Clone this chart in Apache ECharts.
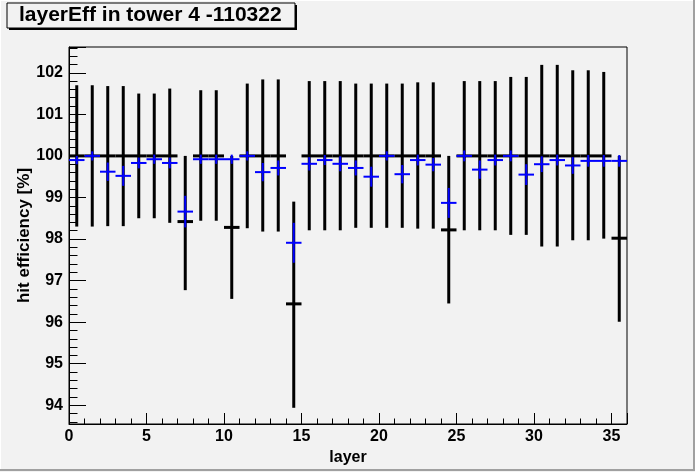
<!DOCTYPE html>
<html>
<head>
<meta charset="utf-8">
<script src="https://cdn.jsdelivr.net/npm/echarts@6/dist/echarts.min.js"></script>
<style>
html,body{margin:0;padding:0;background:#f2f2f2;}
#c{width:696px;height:472px;}
</style>
</head>
<body>
<div id="c"></div>
<script>
// ---- data ----
var layers = [0.5,1.5,2.5,3.5,4.5,5.5,6.5,7.5,8.5,9.5,10.5,11.5,12.5,13.5,14.5,15.5,16.5,17.5,
              18.5,19.5,20.5,21.5,22.5,23.5,24.5,25.5,26.5,27.5,28.5,29.5,30.5,31.5,32.5,33.5,34.5,35.5];
var layerHalfWidth = 0.5;

var blackVal  = [100,100,100,100,100,100,100,98.42,100,100,98.28,100,100,100,96.44,100,100,100,
                 100,100,100,100,100,100,98.22,100,100,100,100,100,100,100,100,100,100,98.02];
var blackHigh = [101.70,101.70,101.68,101.68,101.50,101.50,101.62,100.0,101.58,101.58,100.0,101.74,101.84,101.84,98.90,101.80,101.80,101.80,
                 101.74,101.74,101.74,101.74,101.77,101.77,100.0,101.80,101.80,101.80,101.90,101.90,102.19,102.19,102.06,102.06,102.02,100.0];
var blackLow  = [98.30,98.30,98.31,98.31,98.50,98.50,98.39,96.77,98.44,98.44,96.56,98.26,98.18,98.18,93.94,98.21,98.21,98.21,
                 98.27,98.27,98.27,98.27,98.25,98.25,96.45,98.21,98.21,98.21,98.10,98.10,97.82,97.82,97.97,97.97,98.01,96.01];

var blueVal = [99.90,100.0,99.62,99.52,99.83,99.92,99.83,98.66,99.92,99.92,99.92,100.0,99.61,99.71,97.91,99.81,99.90,99.81,
               99.71,99.50,100.0,99.56,99.90,99.79,98.87,100.0,99.67,99.90,100.0,99.55,99.80,99.90,99.77,99.88,99.88,99.88];
var blueErr = [0.10,0.11,0.22,0.24,0.13,0.11,0.13,0.38,0.11,0.11,0.11,0.11,0.22,0.18,0.48,0.16,0.12,0.18,
               0.18,0.24,0.11,0.22,0.13,0.16,0.36,0.13,0.22,0.13,0.13,0.25,0.19,0.13,0.20,0.14,0.14,0.14];

var titleText = 'layerEff in tower 4 -110322';
var xName = 'layer';
var yName = 'hit efficiency [%]';
var xMin = 0, xMax = 36, yMin = 93.55, yMax = 102.62;

// ---- build ----
var blackData = layers.map(function(x,i){ return [x, blackVal[i], blackLow[i], blackHigh[i], layerHalfWidth]; });
var blueData  = layers.map(function(x,i){ return [x, blueVal[i], blueVal[i]-blueErr[i], blueVal[i]+blueErr[i], layerHalfWidth]; });

function errRender(color, width){
  return function(params, api){
    var x = api.value(0), y = api.value(1), lo = api.value(2), hi = api.value(3), xe = api.value(4);
    var pLo = api.coord([x, lo]), pHi = api.coord([x, hi]);
    var pL = api.coord([x - xe, y]), pR = api.coord([x + xe, y]);
    var st = {stroke: color, lineWidth: width, lineCap: 'butt'};
    return {type:'group', children:[
      {type:'line', shape:{x1:pLo[0], y1:pLo[1], x2:pHi[0], y2:pHi[1]}, style: st},
      {type:'line', shape:{x1:pL[0], y1:pL[1], x2:pR[0], y2:pR[1]}, style: st}
    ]};
  };
}

var FONT = '"Liberation Sans", Arial, Helvetica, sans-serif';
var chart = echarts.init(document.getElementById('c'), null, {renderer:'canvas'});
chart.setOption({
  backgroundColor: '#f2f2f2',
  animation: false,
  grid: {left: 69, right: 69, top: 47, bottom: 48, show: true, borderColor: '#000', borderWidth: 1, backgroundColor: 'transparent'},
  xAxis: {
    type: 'value', min: xMin, max: xMax, minInterval: 5, maxInterval: 5,
    name: xName, nameLocation: 'middle', nameGap: 21,
    nameTextStyle: {fontFamily: FONT, fontWeight: 'bold', fontSize: 16, color: '#000'},
    axisLine: {show: true, onZero: false, lineStyle: {color: '#000', width: 1}},
    axisTick: {show: true, inside: true, length: 11, lineStyle: {color: '#000', width: 1}},
    minorTick: {show: true, splitNumber: 5, length: 5.5, lineStyle: {color: '#000', width: 1}},
    axisLabel: {fontFamily: FONT, fontWeight: 'bold', fontSize: 16, color: '#000', margin: 5, showMaxLabel: false},
    splitLine: {show: false}
  },
  yAxis: {
    type: 'value', min: yMin, max: yMax, minInterval: 1, maxInterval: 1,
    name: yName, nameLocation: 'middle', nameGap: 36, nameRotate: 90, nameMoveOverlap: false,
    nameTextStyle: {fontFamily: FONT, fontWeight: 'bold', fontSize: 17, color: '#000'},
    axisLine: {show: true, onZero: false, lineStyle: {color: '#000', width: 1}},
    axisTick: {show: true, inside: true, length: 17, lineStyle: {color: '#000', width: 1}},
    minorTick: {show: true, splitNumber: 5, length: 8.5, lineStyle: {color: '#000', width: 1}},
    axisLabel: {fontFamily: FONT, fontWeight: 'bold', fontSize: 16, color: '#000', margin: 6, showMinLabel: false, showMaxLabel: false},
    splitLine: {show: false}
  },
  series: [
    {type: 'custom', name: 'black', data: blackData, renderItem: errRender('#000000', 3), clip: true, z: 2},
    {type: 'custom', name: 'blue', data: blueData, renderItem: errRender('#0000ff', 2), clip: true, z: 3}
  ],
  graphic: [
    {type: 'rect', shape: {x: 695, y: 0, width: 1, height: 472}, style: {fill: '#ffffff'}, silent: true},
    {type: 'rect', shape: {x: 693, y: 0, width: 2, height: 471}, style: {fill: '#a0a0a0'}, silent: true},
    {type: 'rect', shape: {x: 0, y: 469, width: 695, height: 2}, style: {fill: '#a0a0a0'}, silent: true},
    {type: 'rect', shape: {x: 0, y: 0, width: 1, height: 469}, style: {fill: '#ffffff'}, silent: true},
    {type: 'rect', shape: {x: 0, y: 0, width: 693, height: 1}, style: {fill: '#ffffff'}, silent: true},
    {type: 'rect', shape: {x: 9, y: 5, width: 288, height: 25}, style: {fill: '#000'}, silent: true, z: 10},
    {type: 'rect', shape: {x: 7, y: 3, width: 288, height: 25}, style: {fill: '#f2f2f2', stroke: '#000', lineWidth: 1}, silent: true, z: 11},
    {type: 'text', x: 19, y: 15, z: 12, silent: true,
     style: {text: titleText, fontFamily: FONT, fontWeight: 'bold', fontSize: 21, fill: '#000', verticalAlign: 'middle', align: 'left'}}
  ]
});
</script>
</body>
</html>
